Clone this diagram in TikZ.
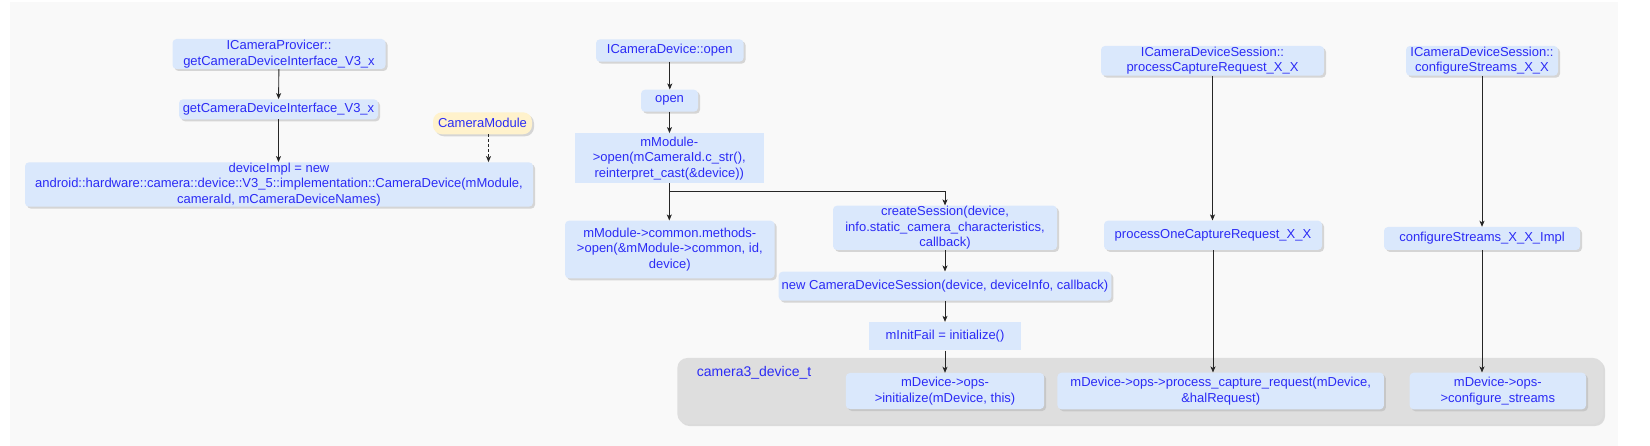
\documentclass[tikz,border=0pt]{standalone}
\usepackage{fontspec}
\setmainfont{Liberation Sans}
\usetikzlibrary{arrows.meta,shadows,calc}

\definecolor{boxBlue}{HTML}{DAE8FC}
\definecolor{textBlue}{HTML}{2B2BF5}
\definecolor{modYellow}{HTML}{FFF2CC}
\definecolor{groupGray}{HTML}{DEDEDE}
\definecolor{panelGray}{HTML}{F9F9F9}

\begin{document}
\begin{tikzpicture}[
    x=1pt, y=-1pt,
    % Define the style for the rounded call boxes
    callBox/.style={
        rectangle,
        rounded corners=4pt,
        fill=boxBlue,
        draw=none,
        inner sep=0pt,
        align=center,
        text=textBlue,
        font=\fontsize{13}{15.5}\selectfont,
        drop shadow={shadow xshift=2pt, shadow yshift=-2pt, fill=black!30}
    },
    % Define the style for the plain (square) boxes
    plainBox/.style={
        rectangle,
        fill=boxBlue,
        draw=none,
        inner sep=0pt,
        align=center,
        text=textBlue,
        font=\fontsize{13}{15.5}\selectfont
    },
    % Define the style for the module box
    modBox/.style={
        callBox,
        rounded corners=9pt,
        fill=modYellow
    },
    % Define the style for the grey group
    groupBox/.style={
        rectangle,
        rounded corners=10pt,
        fill=groupGray,
        draw=none,
        drop shadow={shadow xshift=2pt, shadow yshift=-2pt, fill=black!25}
    },
    % Define the style for the group title
    groupLabel/.style={
        text=textBlue,
        inner sep=0pt,
        font=\fontsize{14}{16}\selectfont
    },
    % Define the style for the connections
    flowArrow/.style={
        draw=black!85,
        line width=0.9pt,
        -{Stealth[length=6pt, width=5pt, inset=1.5pt]}
    },
    depArrow/.style={
        flowArrow,
        dash pattern=on 3pt off 2pt
    }
]

    % --- CANVAS ---
    \useasboundingbox (0,0) rectangle (1650,446);
    \fill[panelGray] (10,2) rectangle (1618,446);

    % --- GROUP ---
    \node[groupBox, minimum width=925.7pt, minimum height=66pt] (grp) at (1140.2,391) {};
    \node[groupLabel, anchor=west] (grpName) at (696.7,373) {camera3\_device\_t};

    % --- NODES ---
    % Provider column
    \node[callBox, minimum width=213pt, minimum height=30pt] (prov) at (279,54)
        {ICameraProvicer::\\getCameraDeviceInterface\_V3\_x};
    \node[callBox, minimum width=199pt, minimum height=20pt] (getIface) at (278.5,109.3)
        {getCameraDeviceInterface\_V3\_x};
    \node[modBox, minimum width=99pt, minimum height=22pt] (camMod) at (482.5,123.3)
        {CameraModule};
    \node[callBox, minimum width=508pt, minimum height=44.4pt] (devImpl) at (279,184.5)
        {deviceImpl = new\\android::hardware::camera::device::V3\_5::implementation::CameraDevice(mModule,\\cameraId, mCameraDeviceNames)};

    % Open column
    \node[callBox, minimum width=147.6pt, minimum height=22.4pt] (devOpen) at (669.8,50.5)
        {ICameraDevice::open};
    \node[callBox, minimum width=57pt, minimum height=22pt] (open) at (669.5,100.7)
        {open};
    \node[plainBox, minimum width=188.6pt, minimum height=50pt] (modOpen) at (669.3,158.3)
        {mModule-\\>open(mCameraId.c\_str(),\\reinterpret\_cast(\&device))};
    \node[callBox, minimum width=209.6pt, minimum height=57.6pt] (comOpen) at (669.8,249.5)
        {mModule->common.methods-\\>open(\&mModule->common, id,\\device)};

    % Session column
    \node[callBox, minimum width=224pt, minimum height=44.3pt] (mkSess) at (945,227.8)
        {createSession(device,\\info.static\_camera\_characteristics,\\callback)};
    \node[callBox, minimum width=332.7pt, minimum height=29pt] (newSess) at (945,286.2)
        {new CameraDeviceSession(device, deviceInfo, callback)};
    \node[plainBox, minimum width=151.7pt, minimum height=28.3pt] (initFail) at (945,336.2)
        {mInitFail = initialize()};
    \node[callBox, minimum width=198.3pt, minimum height=36pt] (opsInit) at (945,391)
        {mDevice->ops-\\>initialize(mDevice, this)};

    % Capture request column
    \node[callBox, minimum width=223pt, minimum height=29.7pt] (procReq) at (1212.5,60.8)
        {ICameraDeviceSession::\\processCaptureRequest\_X\_X};
    \node[callBox, minimum width=218pt, minimum height=29.3pt] (procOne) at (1213,235.3)
        {processOneCaptureRequest\_X\_X};
    \node[callBox, minimum width=326.5pt, minimum height=36.6pt] (opsProc) at (1220.7,391)
        {mDevice->ops->process\_capture\_request(mDevice,\\\&halRequest)};

    % Configure streams column
    \node[callBox, minimum width=152pt, minimum height=29.7pt] (cfgStr) at (1482,60.8)
        {ICameraDeviceSession::\\configureStreams\_X\_X};
    \node[callBox, minimum width=196pt, minimum height=23pt] (cfgImpl) at (1482,238.5)
        {configureStreams\_X\_X\_Impl};
    \node[callBox, minimum width=176.4pt, minimum height=36.6pt] (opsCfg) at (1497.8,391)
        {mDevice->ops-\\>configure\_streams};

    % --- EDGES ---
    \draw[flowArrow] (prov) -- (getIface);
    \draw[flowArrow] (getIface) -- (getIface.south |- devImpl.north);
    \draw[depArrow] (camMod.south) ++(6pt,0) coordinate (camFoot) -- (camFoot |- devImpl.north);

    \draw[flowArrow] (devOpen) -- (devOpen.south |- open.north);
    \draw[flowArrow] (open) -- (open.south |- modOpen.north);
    \draw[flowArrow] (modOpen.south) -- (modOpen.south |- comOpen.north);
    \coordinate (fork) at ($(modOpen.south)+(0,7.7)$);
    \draw[flowArrow] (fork) -| (mkSess.north);

    \draw[flowArrow] (mkSess) -- (mkSess.south |- newSess.north);
    \draw[flowArrow] (newSess) -- (newSess.south |- initFail.north);
    \draw[flowArrow] (initFail) -- (initFail.south |- opsInit.north);

    \draw[flowArrow] (procReq) -- (procReq.south |- procOne.north);
    \draw[flowArrow] (procOne.south) -- (procOne.south |- opsProc.north);

    \draw[flowArrow] (cfgStr) -- (cfgStr.south |- cfgImpl.north);
    \draw[flowArrow] (cfgImpl.south) -- (cfgImpl.south |- opsCfg.north);

\end{tikzpicture}
\end{document}
